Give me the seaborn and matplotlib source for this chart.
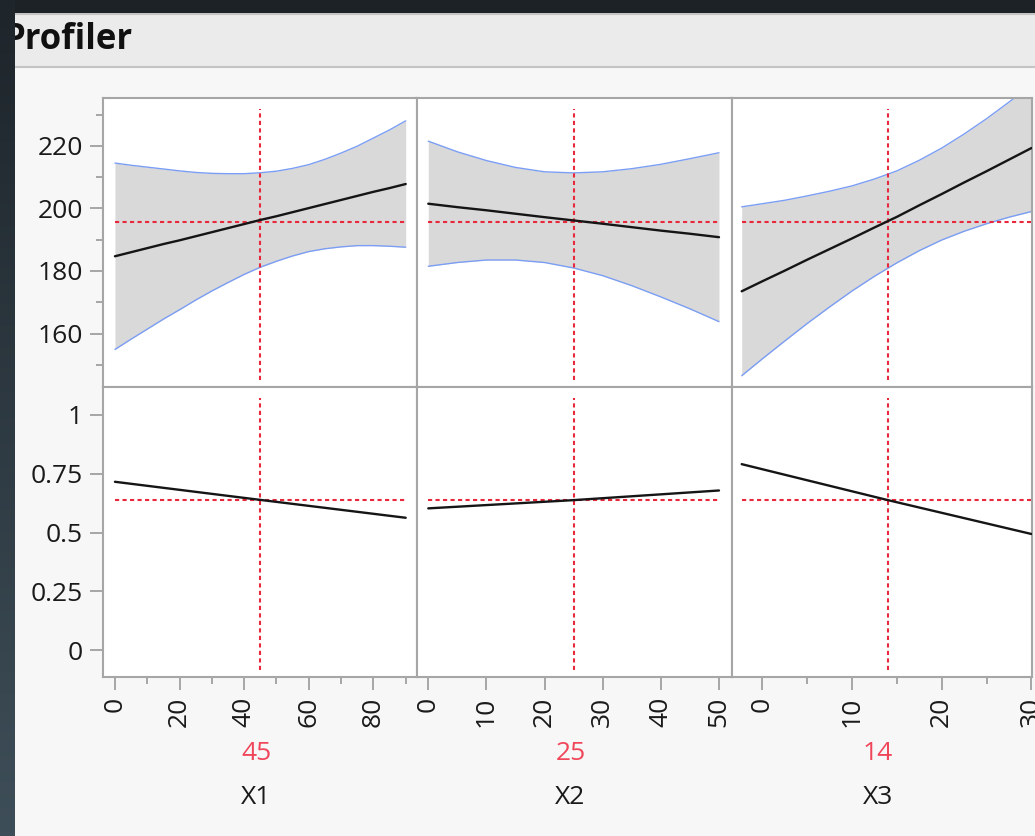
import numpy as np
import pandas as pd
import matplotlib
matplotlib.use("Agg")
import matplotlib.pyplot as plt
import seaborn as sns
from matplotlib.patches import Rectangle
from matplotlib.lines import Line2D
from matplotlib.ticker import FixedLocator

# ---------------- data ----------------
factors = ["X1", "X2", "X3"]
current = [45, 25, 14]
pred_top = 195.8
pred_bottom = 0.638

x1 = [0, 5, 10, 15, 20, 25, 30, 35, 40, 45, 50, 55, 60, 65, 70, 75, 80, 85, 90]
x1_mean = [184.7, 186.0, 187.3, 188.6, 189.8, 191.1, 192.4, 193.7, 195.0, 196.3,
           197.5, 198.8, 200.1, 201.4, 202.7, 204.0, 205.3, 206.5, 207.8]
x1_upper = [214.5, 213.8, 213.2, 212.6, 212.0, 211.5, 211.2, 211.1, 211.1, 211.4,
            211.9, 212.8, 214.0, 215.7, 217.7, 219.9, 222.5, 225.1, 228.0]
x1_lower = [154.9, 158.2, 161.4, 164.6, 167.6, 170.7, 173.6, 176.3, 178.9, 181.2,
            183.1, 184.8, 186.2, 187.1, 187.7, 188.1, 188.1, 187.9, 187.6]
x1_px = [0, 45, 90]
x1_prob = [0.716, 0.639, 0.563]

x2 = [0, 5, 10, 15, 20, 25, 30, 35, 40, 45, 50]
x2_mean = [201.5, 200.4, 199.4, 198.3, 197.2, 196.15, 195.1, 194.0, 192.9, 191.9, 190.8]
x2_upper = [221.5, 218.1, 215.3, 213.1, 211.7, 211.35, 211.7, 212.7, 214.1, 215.9, 217.8]
x2_lower = [181.5, 182.7, 183.5, 183.5, 182.7, 180.95, 178.5, 175.3, 171.7, 167.9, 163.8]
x2_px = [0, 25, 50]
x2_prob = [0.603, 0.638, 0.679]

x3 = [-2.3, 0, 2.5, 5, 7.5, 10, 12.5, 15, 17.5, 20, 22.5, 25, 27.5, 30]
x3_mean = [173.5, 176.7, 180.1, 183.6, 187.0, 190.4, 193.9, 197.3, 201.0, 204.6,
           208.3, 211.9, 215.6, 219.3]
x3_upper = [200.5, 201.5, 202.6, 204.0, 205.5, 207.2, 209.4, 212.0, 215.4, 219.3,
            223.8, 228.7, 234.0, 239.6]
x3_lower = [146.5, 151.9, 157.6, 163.2, 168.5, 173.6, 178.3, 182.6, 186.5, 189.9,
            192.7, 195.1, 197.2, 199.0]
x3_px = [-2.3, 14, 30]
x3_prob = [0.791, 0.638, 0.494]

top_yticks = [160, 180, 200, 220]
top_yminor = [150, 170, 190, 210, 230]
bot_yticks = [0, 0.25, 0.5, 0.75, 1]
bot_ylabels = ["0", "0.25", "0.5", "0.75", "1"]
x_major = [[0, 20, 40, 60, 80], [0, 10, 20, 30, 40, 50], [0, 10, 20, 30]]
x_minor = [[10, 30, 50, 70, 90], [], [5, 15, 25]]
xlims = [(-3.7, 93.5), (-1.94, 52.24), (-3.38, 30.06)]
top_ylim = (142.9, 235.3)
bot_ylim = (-0.114, 1.119)

# ---------------- style ----------------
sns.set_theme(style="white")
plt.rcParams["font.family"] = ["Open Sans", "DejaVu Sans"]

W, H = 1035, 836
fig = plt.figure(figsize=(W / 100, H / 100), dpi=100)
fig.patch.set_facecolor("#f7f7f7")

def fx(px):
    return px / W

def fy(py):
    return 1 - py / H

# header panel
fig.patches.append(Rectangle((0, fy(67)), 1, (67 - 13) / H, transform=fig.transFigure,
                             facecolor="#ebebeb", edgecolor="none", zorder=0))
for yy in (14, 66.5):
    fig.add_artist(Line2D([0, 1], [fy(yy), fy(yy)], transform=fig.transFigure,
                          color="#c4c4c4", lw=1.5, zorder=1))
fig.text(fx(4), fy(40), "Profiler", fontsize=25, fontweight="bold", color="#111111",
         va="center", ha="left", zorder=2)

# top dark band
fig.patches.append(Rectangle((0, fy(13)), 1, 13 / H, transform=fig.transFigure,
                             facecolor="#1c2226", edgecolor="none", zorder=20))
# left dark gradient band
band = fig.add_axes([0, 0, fx(15), 1], zorder=30)
c_top = np.array([0x1e, 0x25, 0x2b]) / 255
c_bot = np.array([0x3e, 0x4e, 0x58]) / 255
t = np.linspace(0, 1, 200)[:, None, None]
grad = c_top * (1 - t) + c_bot * t
band.imshow(grad, aspect="auto", extent=[0, 1, 0, 1])
band.set_axis_off()

# grid of axes
col_px = [(103, 417), (417, 732), (732, 1032)]
row_px = [(98, 387), (387, 677)]

red = "#e8283c"
red_lbl = "#f0465a"
blue = "#7b9ef4"
gray_fill = "#d9d9d9"
frame = "#a6a6a6"
dots = (0, (2.0, 1.6))

tops = [(x1, x1_mean, x1_upper, x1_lower), (x2, x2_mean, x2_upper, x2_lower),
        (x3, x3_mean, x3_upper, x3_lower)]
bots = [(x1_px, x1_prob), (x2_px, x2_prob), (x3_px, x3_prob)]

for c in range(3):
    for r in range(2):
        l, rr = col_px[c]
        t0, b0 = row_px[r]
        ax = fig.add_axes([fx(l), fy(b0), (rr - l) / W, (b0 - t0) / H], zorder=5)
        ax.set_facecolor("white")
        for s in ax.spines.values():
            s.set_color(frame)
            s.set_linewidth(1.5)
        ax.set_xlim(*xlims[c])
        if r == 0:
            xs, m, up, lo = tops[c]
            ax.fill_between(xs, lo, up, color=gray_fill, lw=0, zorder=1)
            sns.lineplot(x=xs, y=up, ax=ax, color=blue, lw=1.0, zorder=2)
            sns.lineplot(x=xs, y=lo, ax=ax, color=blue, lw=1.0, zorder=2)
            sns.lineplot(x=xs, y=m, ax=ax, color="#151515", lw=1.7, zorder=4)
            ax.set_ylim(*top_ylim)
            ax.hlines(pred_top, xs[0], xs[-1], color=red, lw=1.5,
                      linestyles=dots, zorder=3)
        else:
            xs, p = bots[c]
            sns.lineplot(x=xs, y=p, ax=ax, color="#151515", lw=1.7, zorder=4)
            ax.set_ylim(*bot_ylim)
            xr = tops[c][0]
            ax.hlines(pred_bottom, xr[0], xr[-1], color=red, lw=1.5,
                      linestyles=dots, zorder=3)
        ax.axvline(current[c], ymin=7.4 / 289, ymax=1 - 11 / 289, color=red, lw=1.5,
                   linestyle=dots, zorder=3)
        ax.set_xlabel("")
        ax.set_ylabel("")
        # y ticks
        if c == 0:
            if r == 0:
                ax.yaxis.set_major_locator(FixedLocator(top_yticks))
                ax.yaxis.set_minor_locator(FixedLocator(top_yminor))
                ax.set_yticklabels([str(v) for v in top_yticks])
            else:
                ax.yaxis.set_major_locator(FixedLocator(bot_yticks))
                ax.set_yticklabels(bot_ylabels)
                ax.yaxis.set_minor_locator(FixedLocator([]))
            ax.tick_params(axis="y", which="both", left=True, direction="out",
                           color=frame, width=1.4, labelsize=19, labelcolor="#1a1a1a", pad=5)
            ax.tick_params(axis="y", which="major", length=9.5)
            ax.tick_params(axis="y", which="minor", length=5)
        else:
            ax.set_yticks([])
        # x ticks
        if r == 1:
            ax.xaxis.set_major_locator(FixedLocator(x_major[c]))
            ax.xaxis.set_minor_locator(FixedLocator(x_minor[c]))
            ax.set_xticklabels([str(v) for v in x_major[c]], rotation=90)
            ax.tick_params(axis="x", which="both", bottom=True, direction="out",
                           color=frame, width=1.4, labelsize=19, labelcolor="#1a1a1a", pad=5)
            ax.tick_params(axis="x", which="major", length=9.5)
            ax.tick_params(axis="x", which="minor", length=5)
        else:
            ax.set_xticks([])
        leg = ax.get_legend()
        if leg is not None:
            leg.remove()

    cx = fx((col_px[c][0] + col_px[c][1]) / 2 - 4)
    fig.text(cx, fy(753), str(current[c]), color=red_lbl, fontsize=19, ha="center", va="center")
    fig.text(cx, fy(797), factors[c], color="#1a1a1a", fontsize=19, ha="center", va="center")

fig.savefig("out.png", dpi=100, facecolor=fig.get_facecolor())
